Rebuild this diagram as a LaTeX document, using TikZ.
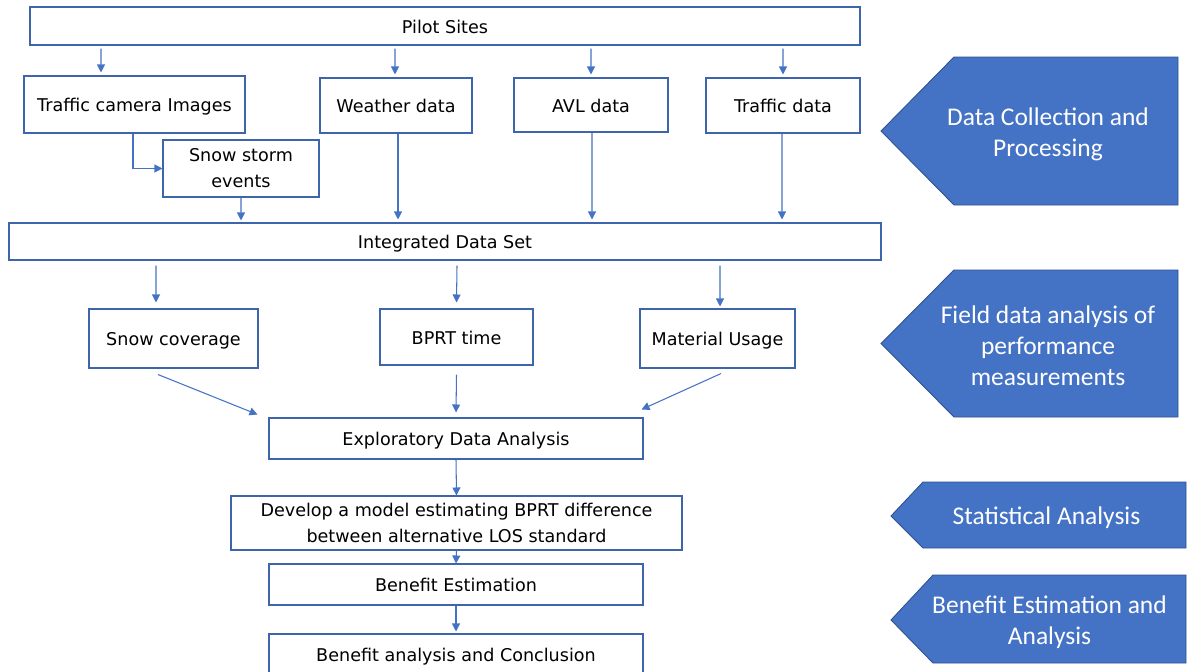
\documentclass[tikz,border=0pt]{standalone}
\usepackage{fontspec}
\setmainfont{DejaVu Sans}
\newfontfamily\phasefont{Carlito}
\usepackage{tikz}
\usetikzlibrary{arrows.meta,positioning,calc}
\definecolor{officeblue}{RGB}{68,114,196}
\definecolor{boxline}{RGB}{62,100,172}
\definecolor{phaseline}{RGB}{47,82,143}
\tikzset{%
  boxbase/.style={draw=boxline,line width=0.6pt,fill=white,align=center,inner sep=0pt,font=\fontsize{10}{14.8}\selectfont},
  box/.style={boxbase,text height=0.93em,text depth=0.1em},
  link/.style={draw=officeblue,line width=0.6pt,-{Triangle[length=1.6mm,width=1.6mm]}},
  phase/.style={fill=officeblue,draw=phaseline,line width=0.5pt}%
}

\begin{document}
\begin{tikzpicture}[
    phasetext/.style={
        text=white,
        align=center,
        font=\phasefont\fontsize{14.5}{17.6}\selectfont
    }
]

% canvas
\useasboundingbox (0,0) rectangle (23.74,-13.42);

% Data collection row
\node[box, minimum width=16.6cm, minimum height=0.76cm] (pilot) at (8.9,-0.52) {Pilot Sites};
\node[box, minimum width=4.42cm, minimum height=1.14cm] (cam) at (2.69,-2.09) {Traffic camera Images};
\node[boxbase, minimum width=3.12cm, minimum height=1.14cm] (snow) at (4.82,-3.37) {Snow storm\\events};
\node[box, minimum width=3.04cm, minimum height=1.10cm] (weather) at (7.92,-2.11) {Weather data};
\node[box, minimum width=3.08cm, minimum height=1.08cm] (avl) at (11.82,-2.10) {AVL data};
\node[box, minimum width=3.08cm, minimum height=1.10cm] (traffic) at (15.66,-2.11) {Traffic data};
\node[box, minimum width=17.44cm, minimum height=0.74cm] (integ) at (8.9,-4.83) {Integrated Data Set};

% Performance measurements
\node[box, minimum width=3.38cm, minimum height=1.18cm] (snowcov) at (3.47,-6.77) {Snow coverage};
\node[box, minimum width=3.06cm, minimum height=1.12cm] (bprt) at (9.13,-6.74) {BPRT time};
\node[box, minimum width=3.10cm, minimum height=1.18cm] (material) at (14.35,-6.77) {Material Usage};

% Analysis chain
\node[box, minimum width=7.48cm, minimum height=0.82cm] (eda) at (9.12,-8.77) {Exploratory Data Analysis};
\node[boxbase, minimum width=9.02cm, minimum height=1.08cm] (model) at (9.13,-10.46)
{Develop a model estimating BPRT difference\\between alternative LOS standard};
\node[box, minimum width=7.48cm, minimum height=0.82cm] (bestim) at (9.12,-11.69) {Benefit Estimation};
\node[box, minimum width=7.48cm, minimum height=0.82cm] (banal) at (9.12,-13.09) {Benefit analysis and Conclusion};

% Arrows from pilot sites
\draw[link] ([xshift=-6.88cm,yshift=-0.06cm]pilot.south) -- ([xshift=-0.67cm,yshift=0.06cm]cam.north);
\draw[link] ([xshift=-1.0cm,yshift=-0.06cm]pilot.south) -- ([xshift=-0.02cm,yshift=0.06cm]weather.north);
\draw[link] ([xshift=2.92cm,yshift=-0.06cm]pilot.south) -- ([yshift=0.06cm]avl.north);
\draw[link] ([xshift=6.76cm,yshift=-0.06cm]pilot.south) -- ([yshift=0.06cm]traffic.north);
\draw[link] ([xshift=-0.03cm]cam.south) |- (snow.west);

% Into the integrated data set
\draw[link] (snow.south) -- ([xshift=-4.08cm,yshift=0.04cm]integ.north);
\draw[link] ([xshift=0.04cm]weather.south) -- ([xshift=-0.94cm,yshift=0.06cm]integ.north);
\draw[link] ([xshift=0.02cm]avl.south) -- ([xshift=2.94cm,yshift=0.06cm]integ.north);
\draw[link] ([xshift=-0.02cm]traffic.south) -- ([xshift=6.74cm,yshift=0.06cm]integ.north);

% Out of the integrated data set
\draw[link] ([xshift=-5.78cm,yshift=-0.1cm]integ.south) -- ([xshift=-0.35cm,yshift=0.12cm]snowcov.north);
\draw[link] ([xshift=0.24cm,yshift=-0.1cm]integ.south) -- ([yshift=0.12cm]bprt.north);
\draw[link] ([xshift=5.5cm,yshift=-0.1cm]integ.south) -- ([xshift=0.05cm,yshift=0.04cm]material.north);

% Towards exploratory analysis
\draw[link] ([xshift=-0.31cm,yshift=-0.12cm]snowcov.south) -- ([xshift=-0.22cm,yshift=0.06cm]eda.north west);
\draw[link] ([yshift=-0.18cm]bprt.south) -- ([yshift=0.1cm]eda.north);
\draw[link] ([xshift=0.07cm,yshift=-0.10cm]material.south) -- ([xshift=-0.04cm,yshift=0.16cm]eda.north east);
\draw[link] (eda.south) -- (model.north);
\draw[link] (model.south) -- (bestim.north);
\draw[link] (bestim.south) -- ([yshift=0.04cm]banal.north);

% Phase arrows on the right
\draw[phase] (17.62,-2.62) -- (19.08,-1.14) -- (23.56,-1.14) -- (23.56,-4.10) -- (19.08,-4.10) -- cycle;
\node[phasetext] (collect) at (20.96,-2.69) {Data Collection and\\Processing};

\draw[phase] (17.62,-6.87) -- (19.08,-5.40) -- (23.56,-5.40) -- (23.56,-8.34) -- (19.08,-8.34) -- cycle;
\node[phasetext] (field) at (20.96,-6.91) {Field data analysis of\\performance\\measurements};

\draw[phase] (17.82,-10.32) -- (18.46,-9.64) -- (23.72,-9.64) -- (23.72,-10.96) -- (18.46,-10.96) -- cycle;
\node[phasetext] (stats) at (20.93,-10.36) {Statistical Analysis};

\draw[phase] (17.82,-12.40) -- (18.66,-11.50) -- (23.72,-11.50) -- (23.72,-13.26) -- (18.66,-13.26) -- cycle;
\node[phasetext] (benefit) at (20.99,-12.45) {Benefit Estimation and\\Analysis};

\end{tikzpicture}
\end{document}
